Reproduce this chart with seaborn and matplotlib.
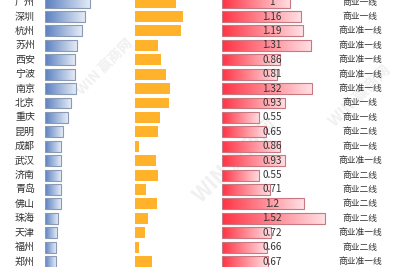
import numpy as np
import pandas as pd
import seaborn as sns
import matplotlib.pyplot as plt
from matplotlib.colors import LinearSegmentedColormap

cities = ["广州", "深圳", "杭州", "苏州", "西安", "宁波", "南京", "北京", "重庆", "昆明",
          "成都", "武汉", "济南", "青岛", "佛山", "珠海", "天津", "福州", "郑州"]
blue_vals = [45, 40, 37, 32, 30, 30, 31, 26, 23, 18, 16, 16, 16, 16, 16, 13, 12, 11, 11]
orange_vals = [41, 48, 46, 23, 26, 31, 35, 34, 25, 23, 4, 21, 23, 11, 22, 13, 10, 4, 17]
red_vals = [1, 1.16, 1.19, 1.31, 0.86, 0.81, 1.32, 0.93, 0.55, 0.65, 0.86, 0.93, 0.55,
            0.71, 1.2, 1.52, 0.72, 0.66, 0.67]
tiers = ["商业一线", "商业一线", "商业准一线", "商业准一线", "商业准一线", "商业准一线",
         "商业准一线", "商业一线", "商业一线", "商业二线", "商业一线", "商业准一线",
         "商业二线", "商业二线", "商业二线", "商业二线", "商业准一线", "商业二线", "商业准一线"]

df = pd.DataFrame({"city": cities, "blue": blue_vals, "orange": orange_vals,
                   "red": red_vals, "tier": tiers})

sns.set_theme(style="white")
plt.rcParams["font.family"] = ["Noto Sans CJK SC", "DejaVu Sans"]

W, H = 393, 267
fig = plt.figure(figsize=(W / 100, H / 100), dpi=100)
fig.patch.set_facecolor("white")
Y_TOP, Y_BOT = -0.146, 18.38

bg = fig.add_axes([0, 0, 1, 1])
bg.set_xlim(0, W)
bg.set_ylim(Y_BOT, Y_TOP)
bg.axis("off")

# faint watermarks
for (wx, wy, s) in [(105, 4.5, 10), (235, 11, 15), (360, 6.5, 11)]:
    bg.text(wx, wy, "WIN 赢商网", rotation=45, fontsize=s, color="#f0f0f0",
            ha="center", va="center", fontweight="bold", zorder=0)


def gradient_bars(ax, c_left, c_right, edge):
    cmap = LinearSegmentedColormap.from_list("g", [c_left, c_right])
    grad = np.linspace(0, 1, 256).reshape(1, -1)
    for p in list(ax.patches):
        x, y, w, h = p.get_x(), p.get_y(), p.get_width(), p.get_height()
        p.set_facecolor("none")
        p.set_edgecolor(edge)
        p.set_linewidth(0.8)
        p.set_zorder(3)
        im = ax.imshow(grad, cmap=cmap, aspect="auto", extent=[x, x + w, y + h, y],
                       zorder=2, interpolation="bilinear")
        im.set_clip_path(p)


def make_ax(x0, x1):
    ax = fig.add_axes([x0 / W, 0, (x1 - x0) / W, 1])
    ax.patch.set_alpha(0)
    return ax


axb = make_ax(45, 135)
sns.barplot(data=df, y="city", x="blue", order=cities, orient="h", width=0.76,
            color="#6b8fca", saturation=1, ax=axb)
gradient_bars(axb, "#5a80c0", "#e4ebf6", "#8a9ab5")
axb.set_xlim(0, 90)

axo = make_ax(135, 195)
sns.barplot(data=df, y="city", x="orange", order=cities, orient="h", width=0.76,
            color="#ffb22a", saturation=1, ax=axo)
for p in axo.patches:
    p.set_edgecolor("none")
axo.set_xlim(0, 60)

axr = make_ax(222, 342)
sns.barplot(data=df, y="city", x="red", order=cities, orient="h", width=0.76,
            color="#ff5060", saturation=1, ax=axr)
gradient_bars(axr, "#ff3344", "#ffe0e4", "#c87880")
axr.set_xlim(0, 120 / 68)

for ax in (axb, axo, axr):
    ax.set_ylim(Y_BOT, Y_TOP)
    ax.axis("off")

txt = fig.add_axes([0, 0, 1, 1])
txt.set_xlim(0, W)
txt.set_ylim(Y_BOT, Y_TOP)
txt.axis("off")
txt.patch.set_alpha(0)
for i, (c, v, t) in enumerate(zip(cities, red_vals, tiers)):
    txt.text(25, i, c, ha="center", va="center", fontsize=7.2, color="#333333")
    txt.text(272, i, f"{v:g}", ha="center", va="center", fontsize=7.2, color="#333333")
    txt.text(360, i, t, ha="center", va="center", fontsize=6.3, color="#333333")

fig.savefig("out.png", dpi=100)
